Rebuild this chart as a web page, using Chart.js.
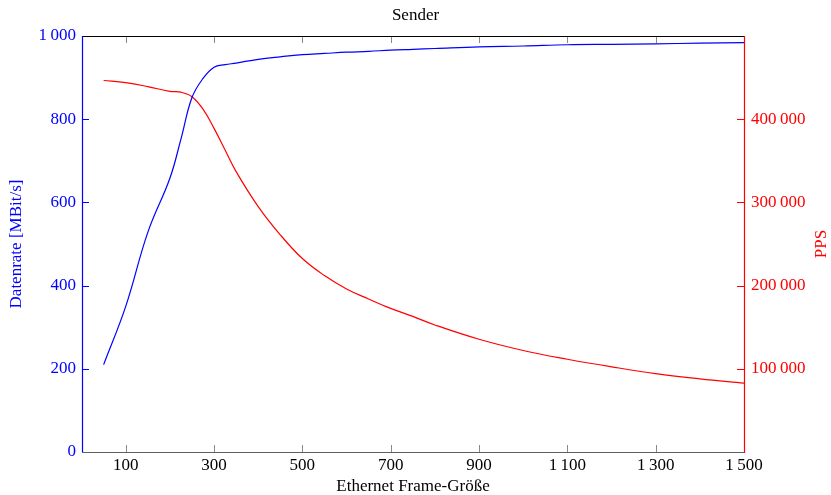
<!DOCTYPE html>
<html>
<head>
<meta charset="utf-8">
<title>Sender</title>
<script src="https://cdn.jsdelivr.net/npm/chart.js@4.4.0/dist/chart.umd.min.js"></script>
<style>
  body { margin: 0; background: #fff; }
</style>
</head>
<body>
<canvas id="myChart" width="831" height="495"></canvas>
<script>
// Frame sizes (bytes) and the two measured series
const frameSizes = [50, 100, 150, 200, 225, 250, 275, 300, 325, 350, 400, 450, 500, 550, 600, 650, 700, 750, 800, 900, 1000, 1100, 1200, 1300, 1400, 1500];
const datenrate = [210, 350, 528, 658, 752, 852, 898, 925, 931, 935, 944, 950, 955, 958, 961, 963, 966, 968, 970, 974, 976, 979, 980, 981, 983, 984];
const pps = [446500, 444000, 439200, 433400, 432500, 427000, 412000, 389000, 363000, 337000, 295000, 261000, 232500, 212000, 196000, 183900, 172600, 163000, 152700, 135500, 122000, 111500, 102400, 94200, 87900, 82800];

const xTicks = [100, 300, 500, 700, 900, 1100, 1300, 1500];
const leftTicks = [0, 200, 400, 600, 800, 1000];
const rightTicks = [100000, 200000, 300000, 400000];

const FONT = "'Liberation Serif', 'Times New Roman', serif";

function fmt(v) {
  return v.toLocaleString('en-US').replace(/,/g, '\u2009');
}

// pgfplots-like frame with inward ticks, plus the right axis label
const frameTicks = {
  id: 'frameTicks',
  afterDatasetsDraw(chart) {
    const {ctx, chartArea: a, scales} = chart;
    ctx.save();
    ctx.lineWidth = 1;
    function line(x1, y1, x2, y2, col) {
      ctx.strokeStyle = col;
      ctx.beginPath();
      ctx.moveTo(x1, y1);
      ctx.lineTo(x2, y2);
      ctx.stroke();
    }
    xTicks.forEach(v => {
      const px = Math.round(scales.x.getPixelForValue(v)) + 0.5;
      line(px, a.top, px, a.top + 7, '#8a8a8a');
      line(px, a.bottom, px, a.bottom - 7, '#8a8a8a');
    });
    leftTicks.forEach(v => {
      const py = Math.round(scales.y.getPixelForValue(v)) + 0.5;
      line(a.left, py, a.left + 7, py, '#0000ff');
    });
    rightTicks.forEach(v => {
      const py = Math.round(scales.y1.getPixelForValue(v)) + 0.5;
      line(a.right, py, a.right - 7, py, '#ff0000');
    });
    ctx.lineWidth = 1.2;
    line(a.left, a.top + 0.5, a.right, a.top + 0.5, '#000000');
    line(a.left, a.bottom + 0.5, a.right, a.bottom + 0.5, '#606060');
    line(a.left + 0.5, a.top, a.left + 0.5, a.bottom, '#0000ff');
    line(a.right + 0.5, a.top, a.right + 0.5, a.bottom + 1, '#ff0000');

    // PPS label reads bottom to top like the left one
    ctx.translate(822, (a.top + a.bottom) / 2);
    ctx.rotate(-Math.PI / 2);
    ctx.fillStyle = '#ff0000';
    ctx.font = '17px ' + FONT;
    ctx.textAlign = 'center';
    ctx.textBaseline = 'middle';
    ctx.fillText('PPS', 0, 0);
    ctx.restore();
  }
};

const myChart = document.getElementById('myChart');

let lineChart = new Chart(myChart, {
  type: 'line',
  data: {
    datasets: [
      {
        label: 'Datenrate',
        data: frameSizes.map((x, i) => ({x: x, y: datenrate[i]})),
        yAxisID: 'y',
        borderColor: '#0000ff',
        borderWidth: 1.2,
        pointRadius: 0,
        tension: 0.4,
        fill: false
      },
      {
        label: 'PPS',
        data: frameSizes.map((x, i) => ({x: x, y: pps[i]})),
        yAxisID: 'y1',
        borderColor: '#ff0000',
        borderWidth: 1.2,
        pointRadius: 0,
        tension: 0.4,
        fill: false
      }
    ]
  },
  options: {
    responsive: false,
    animation: false,
    layout: { padding: 0 },
    plugins: {
      legend: { display: false },
      tooltip: { enabled: false },
      title: {
        display: true,
        text: 'Sender',
        color: '#000',
        font: { family: FONT, size: 17, weight: 'normal', lineHeight: 1.2 },
        padding: { top: 5, bottom: 10.6 }
      }
    },
    scales: {
      x: {
        type: 'linear',
        min: 1,
        max: 1500,
        afterFit: s => { s.height = 43; },
        afterBuildTicks: s => { s.ticks = xTicks.map(v => ({value: v})); },
        grid: { display: false, drawTicks: false },
        border: { display: false },
        ticks: {
          color: '#000',
          padding: 3,
          maxRotation: 0,
          autoSkip: false,
          font: { family: FONT, size: 17 },
          callback: v => fmt(v)
        },
        title: {
          display: true,
          text: 'Ethernet Frame-Größe',
          color: '#000',
          font: { family: FONT, size: 17, lineHeight: 1 },
          padding: 0
        }
      },
      y: {
        position: 'left',
        min: 0,
        max: 1000,
        afterFit: s => { s.width = 82; },
        afterBuildTicks: s => { s.ticks = leftTicks.map(v => ({value: v})); },
        grid: { display: false, drawTicks: false },
        border: { display: false },
        ticks: {
          color: '#0000ff',
          padding: 6,
          font: { family: FONT, size: 17 },
          callback: v => fmt(v)
        },
        title: {
          display: true,
          text: 'Datenrate [MBit/s]',
          color: '#0000ff',
          font: { family: FONT, size: 17, lineHeight: 1 },
          padding: { top: 8, bottom: 0 }
        }
      },
      y1: {
        position: 'right',
        min: 0,
        max: 500000,
        afterFit: s => { s.width = 87; },
        afterBuildTicks: s => { s.ticks = rightTicks.map(v => ({value: v})); },
        grid: { display: false, drawTicks: false },
        border: { display: false },
        ticks: {
          color: '#ff0000',
          padding: 7,
          font: { family: FONT, size: 17 },
          callback: v => fmt(v)
        },
        title: { display: false }
      }
    }
  },
  plugins: [frameTicks]
});
</script>
</body>
</html>
